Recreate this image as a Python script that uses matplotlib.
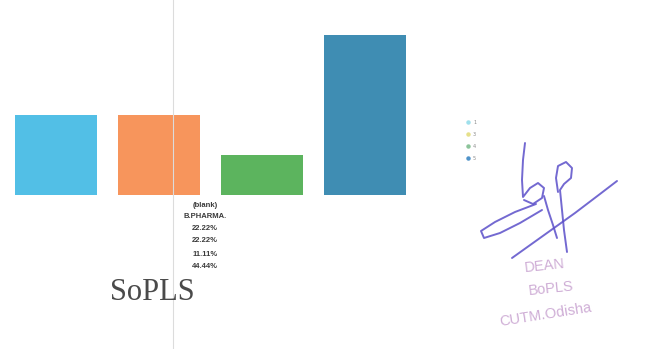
import matplotlib
matplotlib.use("Agg")
import matplotlib.pyplot as plt
from matplotlib.lines import Line2D

# Survey result for B.PHARMA. (share of responses per rating)
ratings = ["1", "3", "4", "5"]
shares = [22.22, 22.22, 11.11, 44.44]
bar_colors = ["#52bfe6", "#f7955c", "#5cb45e", "#3f8db3"]
row_header = "(blank)"
programme = "B.PHARMA."
school = "SoPLS"

W, H = 654, 349
fig = plt.figure(figsize=(W / 100, H / 100), dpi=100)
fig.patch.set_facecolor("white")


def fx(x):
    return x / W


def fy(y):
    return 1 - y / H


# bar chart area
ax = fig.add_axes([fx(4.5), fy(195), fx(412), 180 / H])
ax.bar(range(len(shares)), shares, width=0.8, color=bar_colors)
ax.set_xlim(-0.5, len(shares) - 0.5)
ax.set_ylim(0, 50)
ax.axis("off")

# thin vertical divider
fig.add_artist(Line2D([fx(173), fx(173)], [0, 1], color="#dcdcdc", lw=0.8))

# pivot labels beneath the bars
lines = [row_header, programme] + [f"{v:.2f}%" for v in shares]
ys = [205, 216, 229, 241, 254, 266]
for txt, y in zip(lines, ys):
    fig.text(fx(205), fy(y), txt, ha="center", va="center", fontsize=5.5,
             fontweight="bold", color="#3a3a3a", family="Liberation Sans")

# legend
leg_y = [122, 134, 146, 158]
leg_colors = ["#9fe0ec", "#e6e08a", "#8cc49a", "#4f93c9"]
for lab, y, c in zip(ratings, leg_y, leg_colors):
    fig.add_artist(Line2D([fx(468)], [fy(y)], marker="o", ms=2.2, color=c, lw=0))
    fig.text(fx(473), fy(y), lab, ha="left", va="center", fontsize=3.5, color="#888888")

# school name
fig.text(fx(152), fy(292), school, ha="center", va="center", fontsize=22,
         family="Liberation Serif", color="#4a4a4a")

# signature strokes
ink = "#5b4fc9"
strokes = [
    [(525, 143), (523, 160), (522, 180), (523, 197), (530, 188), (538, 183),
     (544, 188), (542, 198), (533, 204), (524, 200)],
    [(558, 192), (556, 178), (558, 166), (566, 162), (572, 168), (571, 178),
     (564, 184), (560, 190), (562, 210), (564, 230), (567, 252)],
    [(544, 196), (548, 210), (553, 225), (557, 238)],
    [(536, 204), (515, 212), (495, 222), (481, 231), (484, 238), (500, 233),
     (520, 223), (542, 210)],
    [(512, 258), (540, 238), (575, 213), (600, 194), (617, 181)],
]
for s in strokes:
    xs = [fx(p[0]) for p in s]
    ys_ = [fy(p[1]) for p in s]
    fig.add_artist(Line2D(xs, ys_, color=ink, lw=1.4, alpha=0.85,
                          solid_capstyle="round", solid_joinstyle="round"))

# office stamp
stamp = "#cfaed6"
fig.text(fx(545), fy(266), "DEAN", ha="center", va="center", fontsize=10.5,
         color=stamp, rotation=6, family="Liberation Sans")
fig.text(fx(551), fy(289), "BoPLS", ha="center", va="center", fontsize=10.5,
         color=stamp, rotation=6, family="Liberation Sans")
fig.text(fx(546), fy(315), "CUTM.Odisha", ha="center", va="center", fontsize=10.5,
         color=stamp, rotation=9, family="Liberation Sans")

fig.savefig("out.png", dpi=100, facecolor="white")
